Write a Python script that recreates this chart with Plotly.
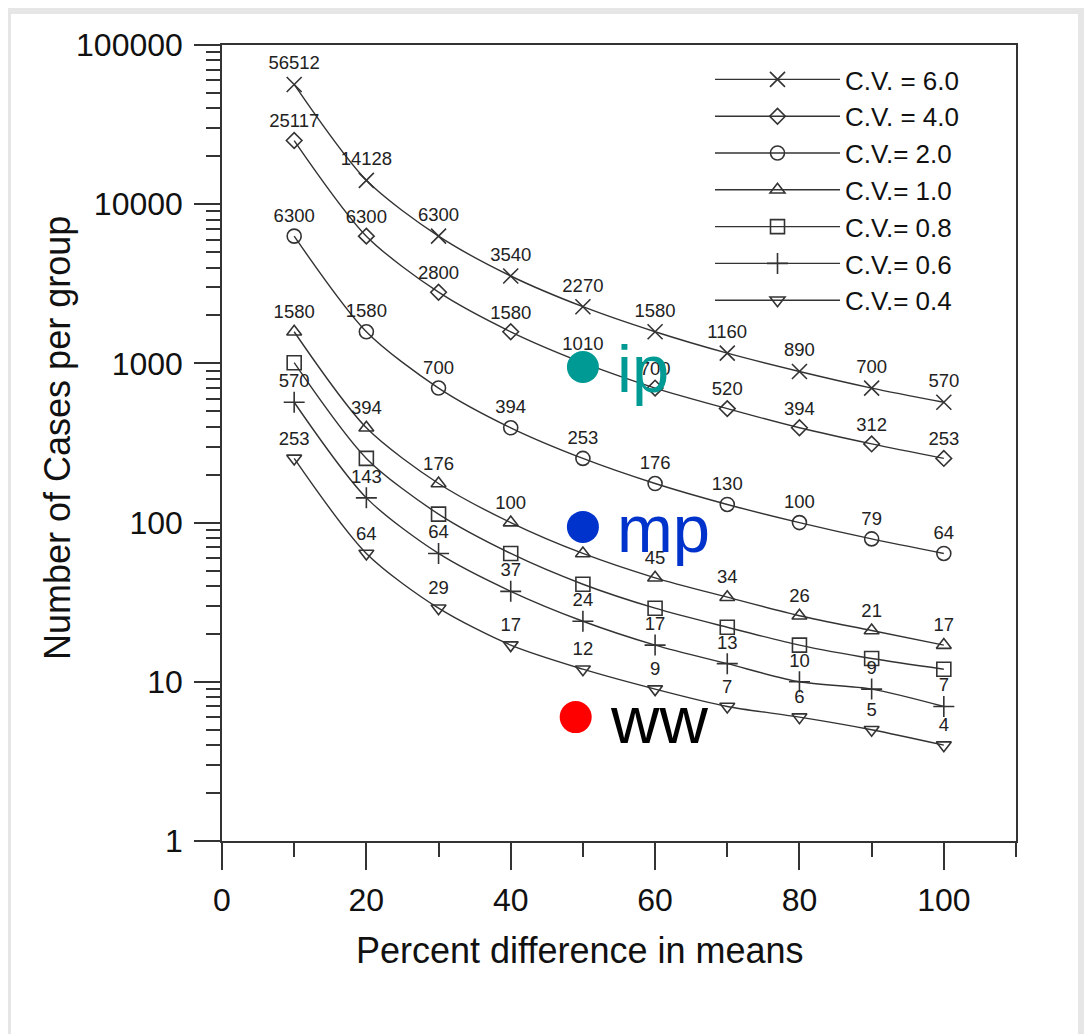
import math
import plotly.graph_objects as go

# ---------------- data ----------------
pct_diff = [10, 20, 30, 40, 50, 60, 70, 80, 90, 100]

series_names = ["C.V. = 6.0", "C.V. = 4.0", "C.V.= 2.0", "C.V.= 1.0",
                "C.V.= 0.8", "C.V.= 0.6", "C.V.= 0.4"]

cv_6_0 = [56512, 14128, 6300, 3540, 2270, 1580, 1160, 890, 700, 570]
cv_4_0 = [25117, 6300, 2800, 1580, 1010, 700, 520, 394, 312, 253]
cv_2_0 = [6300, 1580, 700, 394, 253, 176, 130, 100, 79, 64]
cv_1_0 = [1580, 394, 176, 100, 64, 45, 34, 26, 21, 17]
cv_0_8 = [1010, 253, 113, 64, 41, 29, 22, 17, 14, 12]
cv_0_6 = [570, 143, 64, 37, 24, 17, 13, 10, 9, 7]
cv_0_4 = [253, 64, 29, 17, 12, 9, 7, 6, 5, 4]

# which series show value labels (C.V.=0.8 has none in the original)
show_labels = [True, True, True, True, False, True, True]

# highlighted points
hl_names = ["ip", "mp", "ww"]
hl_x = [50, 50, 49]
hl_y = [950, 94, 6]

y_tick_vals = [1, 10, 100, 1000, 10000, 100000]
y_tick_text = ["1", "10", "100", "1000", "10000", "100000"]
x_tick_vals = [0, 20, 40, 60, 80, 100]

x_title = "Percent difference in means"
y_title = "Number of Cases per group"

# ---------------- style ----------------
FONT = "Liberation Sans, Arial, sans-serif"
INK = "#333333"
TXT = "#111111"
symbols = ["x-thin-open", "diamond-open", "circle-open", "triangle-up-open",
           "square-open", "cross-thin-open", "triangle-down-open"]
sizes = [15, 12, 14, 13, 14, 15, 13]
hl_marker_colors = ["#009a94", "#0033cc", "#ff0000"]
hl_text_colors = ["#009a94", "#0033cc", "#000000"]

all_series = [cv_6_0, cv_4_0, cv_2_0, cv_1_0, cv_0_8, cv_0_6, cv_0_4]

fig = go.Figure()
for name, vals, sym, sz, lab in zip(series_names, all_series, symbols, sizes, show_labels):
    fig.add_trace(go.Scatter(
        x=pct_diff, y=vals, name=name,
        mode="lines+markers+text" if lab else "lines+markers",
        text=[str(v) for v in vals] if lab else None,
        textposition="top center",
        textfont=dict(family=FONT, size=18.5, color="#222222"),
        line=dict(color=INK, width=1.4, shape="spline", smoothing=0.8),
        marker=dict(symbol=sym, size=sz, color=INK, line=dict(color=INK, width=1.6)),
        cliponaxis=False,
    ))

for nm, xx, yy, mc, tc in zip(hl_names, hl_x, hl_y, hl_marker_colors, hl_text_colors):
    fig.add_trace(go.Scatter(
        x=[xx], y=[yy], mode="markers", name=nm,
        marker=dict(size=32, color=mc),
        showlegend=False, cliponaxis=False,
    ))
    fig.add_annotation(
        x=xx, y=math.log10(yy), xref="x", yref="y", text=nm, showarrow=False,
        xanchor="left", yanchor="middle", xshift=32, yshift=-2,
        font=dict(family=FONT, size=67, color=tc),
    )

# figure sits 8px inside the page (browser body margin)
OFF = 8
W, H = 1092 - OFF, 1034 - OFF
L, R, T, B = 222 - OFF, 1092 - 1016, 45 - OFF, 1034 - 841
pw, ph = W - L - R, H - T - B


def px_x(p):  # page pixel -> paper x
    return (p - OFF - L) / pw


def px_y(p):  # page pixel -> paper y
    return (H - B - (p - OFF)) / ph


fig.add_shape(type="rect", xref="paper", yref="paper",
              x0=px_x(11), x1=px_x(1078), y0=px_y(1040), y1=px_y(14),
              fillcolor="white", line=dict(width=0), layer="below")

fig.add_annotation(x=px_x(580), y=px_y(950), xref="paper", yref="paper",
                   text=x_title, showarrow=False, xanchor="center", yanchor="middle",
                   font=dict(family=FONT, size=36, color=TXT))
fig.add_annotation(x=px_x(57), y=px_y(438), xref="paper", yref="paper",
                   text=y_title, showarrow=False, xanchor="center", yanchor="middle",
                   textangle=-90, font=dict(family=FONT, size=36, color=TXT))

fig.update_layout(
    width=W, height=H,
    margin=dict(l=L, r=R, t=T, b=B),
    paper_bgcolor="#e6e6e6",
    plot_bgcolor="white",
    font=dict(family=FONT, color=TXT),
    showlegend=True,
    legend=dict(
        x=px_x(710), y=px_y(56), xanchor="left", yanchor="top",
        bgcolor="rgba(0,0,0,0)", font=dict(family=FONT, size=26, color=TXT),
        itemwidth=125, tracegroupgap=0,
    ),
)

fig.update_xaxes(
    range=[0, 110], tickvals=x_tick_vals,
    ticks="outside", ticklen=27, tickwidth=1.5, tickcolor=INK,
    minor=dict(dtick=10, tick0=0, ticks="outside", ticklen=14, tickwidth=1.5, tickcolor=INK),
    showline=True, linecolor=INK, linewidth=1.5, mirror=True,
    showgrid=False, zeroline=False, ticklabelstandoff=3,
    tickfont=dict(family=FONT, size=32, color=TXT),
)
fig.update_yaxes(
    type="log", range=[0, 5], tickvals=y_tick_vals, ticktext=y_tick_text,
    ticks="outside", ticklen=26, tickwidth=1.5, tickcolor=INK,
    minor=dict(dtick="D1", ticks="outside", ticklen=14, tickwidth=1.5, tickcolor=INK),
    showline=True, linecolor=INK, linewidth=1.5, mirror=True,
    showgrid=False, zeroline=False, ticklabelstandoff=5,
    tickfont=dict(family=FONT, size=32, color=TXT),
)

fig.write_html("out.html")
